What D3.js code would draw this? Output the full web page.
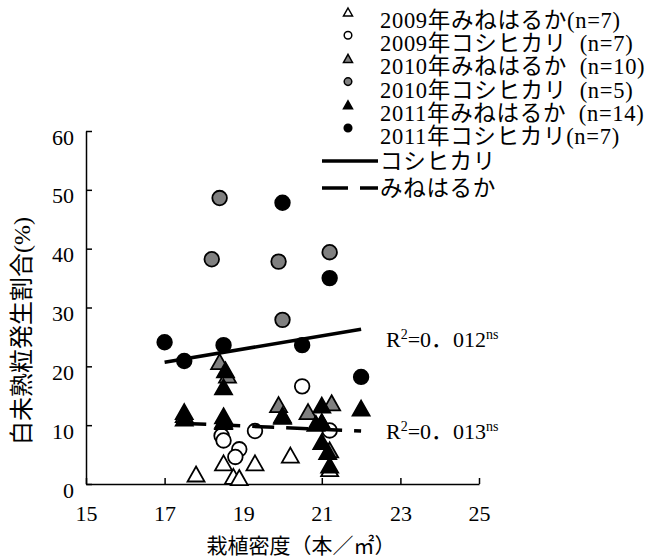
<!DOCTYPE html>
<html>
<head>
<meta charset="utf-8">
<script src="https://cdn.jsdelivr.net/npm/d3@7"></script>
<style>
  body { margin: 0; background: #fff; }
  svg { display: block; }
</style>
</head>
<body>
<svg width="652" height="558"></svg>
<script>
// values: [plant density, white immature %]
const mine2009 = [[17.8, 1.7], [18.5, 3.6], [18.75, 1.3], [18.9, 1.1], [19.3, 3.6], [20.2, 4.9], [21.2, 2.6]];
const koshi2009 = [[20.5, 16.6], [18.45, 8.2], [18.5, 7.4], [18.9, 5.9], [18.8, 4.6], [19.3, 9.0], [21.2, 9.1]];
const mine2010 = [[18.4, 20.8], [19.9, 13.5], [20.65, 12.3], [21.25, 13.8], [17.5, 11.8], [18.5, 10.8], [20.0, 11.5], [21.0, 10.5], [21.2, 5.8], [18.6, 18.5]];
const koshi2010 = [[18.4, 48.6], [18.2, 38.2], [19.9, 37.8], [20.0, 27.9], [21.2, 39.4]];
const mine2011 = [[17.5, 12.3], [17.5, 11.2], [18.55, 19.4], [18.5, 16.5], [18.5, 11.6], [18.5, 10.6], [20.0, 11.7], [21.0, 13.4], [20.85, 10.3], [21.0, 10.6], [21.0, 7.2], [21.15, 5.5], [21.2, 3.2], [22.0, 12.9]];
const koshi2011 = [[17.0, 24.1], [17.5, 20.9], [18.5, 23.6], [20.0, 47.8], [20.5, 23.6], [21.2, 35.0], [22.0, 18.2]];

const koshiTrend = [[17.0, 20.7], [22.0, 26.3]];
const mineTrend = [[17.5, 10.3], [22.0, 9.0]];

const legendLabels = [
  "2009年みねはるか(n=7)",
  "2009年コシヒカリ\u00a0\u00a0(n=7)",
  "2010年みねはるか\u00a0\u00a0(n=10)",
  "2010年コシヒカリ\u00a0\u00a0(n=5)",
  "2011年みねはるか\u00a0\u00a0(n=14)",
  "2011年コシヒカリ(n=7)"
];
const lineLabels = ["コシヒカリ", "みねはるか"];
const r2Labels = ["0．012", "0．013"];

const xTicks = [15, 17, 19, 21, 23, 25];
const yTicks = [0, 10, 20, 30, 40, 50, 60];

const font = '"Liberation Serif", "Noto Sans CJK JP", serif';

let svg = d3.select("svg");
let x = d3.scaleLinear().domain([15, 25]).range([86, 479]);
let y = d3.scaleLinear().domain([0, 60]).range([484, 131]);

let series = [
  {data: mine2009, shape: "tri", fill: "#fff"},
  {data: koshi2009, shape: "circle", fill: "#fff"},
  {data: mine2010, shape: "tri", fill: "#808080"},
  {data: koshi2010, shape: "circle", fill: "#808080"},
  {data: mine2011, shape: "tri", fill: "#000"},
  {data: koshi2011, shape: "circle", fill: "#000"}
];

let tri = (w, h) => `M0,${-h / 2}L${w / 2},${h / 2}L${-w / 2},${h / 2}Z`;

function marker(g, s, big) {
  if (s.shape === "tri") {
    return g.append("path")
      .attr("d", big ? tri(17, 15) : tri(9, 8))
      .attr("fill", s.fill)
      .attr("stroke", "#000")
      .attr("stroke-width", big ? 1.8 : 1.5)
      .attr("stroke-linejoin", "miter");
  }
  return g.append("circle")
    .attr("r", big ? 7.3 : 3.8)
    .attr("fill", s.fill)
    .attr("stroke", "#000")
    .attr("stroke-width", big ? 1.8 : 1.5);
}

// axes
let yAxis = svg.append("g")
  .attr("transform", "translate(" + x(15) + ",0)")
  .call(d3.axisLeft(y).tickValues(yTicks).tickSizeInner(-6).tickSizeOuter(0));
yAxis.selectAll("text")
  .attr("x", -12).attr("dy", 0).attr("y", 13)
  .style("font-family", font).style("font-size", "22px").attr("fill", "#000");

let xAxis = svg.append("g")
  .attr("transform", "translate(0," + y(0) + ")")
  .call(d3.axisBottom(x).tickValues(xTicks).tickSizeInner(-6).tickSizeOuter(0));
xAxis.selectAll("text")
  .attr("y", 37).attr("dy", 0)
  .style("font-family", font).style("font-size", "22px").attr("fill", "#000");

svg.selectAll(".domain, .tick line").attr("stroke", "#000").attr("stroke-width", 1.5);

// points
series.forEach(s => {
  s.data.forEach(d => {
    let g = svg.append("g").attr("transform", "translate(" + x(d[0]) + "," + y(d[1]) + ")");
    marker(g, s, true);
  });
});

// trend lines
let line = d3.line().x(d => x(d[0])).y(d => y(d[1]));
svg.append("path").datum(koshiTrend)
  .attr("d", line).attr("fill", "none").attr("stroke", "#000").attr("stroke-width", 3.5);
svg.append("path").datum(mineTrend)
  .attr("d", line).attr("fill", "none").attr("stroke", "#000").attr("stroke-width", 3.5)
  .attr("stroke-dasharray", "22,12");

// R2 labels
[[koshiTrend, r2Labels[0], 347], [mineTrend, r2Labels[1], 439]].forEach(r => {
  let t = svg.append("text").attr("x", 386).attr("y", r[2])
    .style("font-family", font).style("font-size", "22px");
  t.append("tspan").text("R");
  t.append("tspan").attr("dy", -8).style("font-size", "14px").text("2");
  t.append("tspan").attr("dy", 8).text("=" + r[1]);
  t.append("tspan").attr("dy", -8).style("font-size", "14px").text("ns");
});

// legend
legendLabels.forEach((lab, i) => {
  let my = 12 + i * 23.2;
  let g = svg.append("g").attr("transform", "translate(348," + my + ")");
  marker(g, series[i], false);
  svg.append("text").attr("x", 380).attr("y", my + 16)
    .style("font-family", font).style("font-size", "22.5px")
    .style("letter-spacing", "0.7px").text(lab);
});

lineLabels.forEach((lab, i) => {
  let ly = 161 + i * 27;
  svg.append("line").attr("x1", 322).attr("x2", 378).attr("y1", ly).attr("y2", ly)
    .attr("stroke", "#000").attr("stroke-width", 3.5)
    .attr("stroke-dasharray", i === 1 ? "26,12" : null);
  svg.append("text").attr("x", 380).attr("y", ly + 8)
    .style("font-family", font).style("font-size", "22.5px")
    .style("letter-spacing", "0.7px").text(lab);
});

// axis titles
svg.append("text")
  .attr("transform", "translate(22,331) rotate(-90)")
  .attr("text-anchor", "middle").attr("dominant-baseline", "central")
  .style("font-family", font).style("font-size", "24px")
  .text("白未熟粒発生割合(%)");

svg.append("text")
  .attr("x", 301).attr("y", 553).attr("text-anchor", "middle")
  .style("font-family", font).style("font-size", "21px")
  .text("栽植密度（本／㎡）");
</script>
</body>
</html>
